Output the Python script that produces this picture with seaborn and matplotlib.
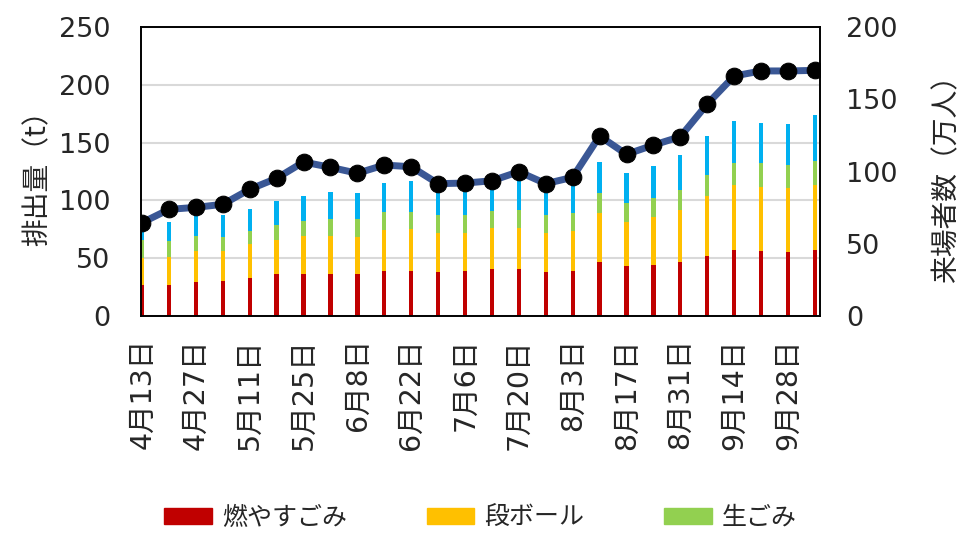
import numpy as np
import pandas as pd
import matplotlib.pyplot as plt
import seaborn as sns
from matplotlib.patches import Patch

# 週ごとのデータ (4月13日〜10月5日)
dates = ["4月13日", "4月20日", "4月27日", "5月4日", "5月11日", "5月18日", "5月25日",
         "6月1日", "6月8日", "6月15日", "6月22日", "6月29日", "7月6日", "7月13日",
         "7月20日", "7月27日", "8月3日", "8月10日", "8月17日", "8月24日", "8月31日",
         "9月7日", "9月14日", "9月21日", "9月28日", "10月5日"]

burnable = [27, 27, 29, 30, 33, 36, 36, 36, 36, 39, 39, 38, 39, 41, 41, 38, 39,
            47, 43, 44, 47, 52, 57, 56, 55, 57]
cardboard = [23, 24, 27, 26, 29, 30, 33.5, 33.5, 32, 35.5, 36, 34, 32.5, 35, 35, 34,
             34.5, 42, 38.5, 41.5, 44.5, 52, 56, 56, 56, 56]
food = [16, 14, 13, 12, 11.5, 12.5, 12.5, 14, 15.5, 15.5, 15, 15, 15.5, 15, 16, 15.5,
        15.5, 17, 16.5, 16.5, 17.5, 18, 19, 20, 19.5, 21]
other = [12, 16, 18, 19, 19.5, 21, 22, 23.5, 22.5, 25, 27, 21, 21, 20, 26, 20.5, 24,
         27, 26, 28, 30, 34, 37, 35, 35.5, 40]
visitors = [64.6, 73.8, 75.2, 77.3, 87.7, 95.3, 106.6, 102.9, 98.8, 104.5, 103.3,
            91.6, 92, 93.6, 99.9, 91.6, 96, 124.6, 111.9, 118.3, 124.1, 146.7,
            166.1, 169.6, 169.6, 170]

colors = {"燃やすごみ": "#C00000", "段ボール": "#FFC000", "生ごみ": "#92D050", "その他": "#00B0F0"}

df = pd.DataFrame({"date": dates, "燃やすごみ": burnable, "段ボール": cardboard,
                   "生ごみ": food, "その他": other})
# 積み上げ用の累積値
cum = df[["燃やすごみ", "段ボール", "生ごみ", "その他"]].cumsum(axis=1)

sns.set_style("white")
plt.rcParams['font.family'] = ['DejaVu Sans', 'Noto Sans CJK JP']
plt.rcParams['font.size'] = 18

fig = plt.figure(figsize=(9.61, 5.35), dpi=100)
ax = fig.add_axes([0.1467, 0.4093, 0.7066, 0.5402])

# 上の系列から順に描画して積み上げを表現
for col in ["その他", "生ごみ", "段ボール", "燃やすごみ"]:
    sns.barplot(x=df["date"], y=cum[col], ax=ax, color=colors[col], saturation=1,
                width=0.16, linewidth=0, order=dates)

ax.set_ylim(0, 250)
ax.set_yticks([0, 50, 100, 150, 200, 250])
ax.set_xlim(-0.04, 25.19)
ax.set_xticks(range(0, 26, 2))
ax.set_xticklabels(dates[::2], rotation=90)
ax.set_xlabel("")
ax.set_ylabel("排出量（t）", fontsize=20)
ax.yaxis.set_label_coords(-0.131, 0.5)
ax.yaxis.grid(True, color="#D9D9D9", linewidth=1.5)
ax.set_axisbelow(True)
ax.tick_params(axis="y", length=0, pad=22, labelsize=19.5)
ax.tick_params(axis="x", direction="in", length=3.5, width=1.5, pad=16, color="black",
               labelsize=20.5)

ax2 = ax.twinx()
sns.lineplot(x=np.arange(len(dates)), y=visitors, ax=ax2, color="#3A5795", linewidth=5,
             marker="o", markersize=12, markerfacecolor="black", markeredgecolor="black")
ax2.set_ylim(0, 200)
ax2.set_yticks([0, 50, 100, 150, 200])
ax2.set_ylabel("来場者数（万人）", fontsize=20)
ax2.yaxis.set_label_coords(1.166, 0.5)
ax2.tick_params(axis="y", length=0, pad=19, labelsize=19.5)
ax2.set_xlim(-0.04, 25.19)

for a in (ax, ax2):
    for s in a.spines.values():
        s.set_color("black")
        s.set_linewidth(1.2)

handles = [Patch(color=colors[k]) for k in ["燃やすごみ", "段ボール", "生ごみ"]]
fig.legend(handles, ["燃やすごみ", "段ボール", "生ごみ"], loc="center",
           bbox_to_anchor=(0.5, 0.032), ncol=3, frameon=False, handlelength=1.9,
           handleheight=0.6, handletextpad=0.4, columnspacing=3.2)

fig.savefig("out.png", dpi=100)
